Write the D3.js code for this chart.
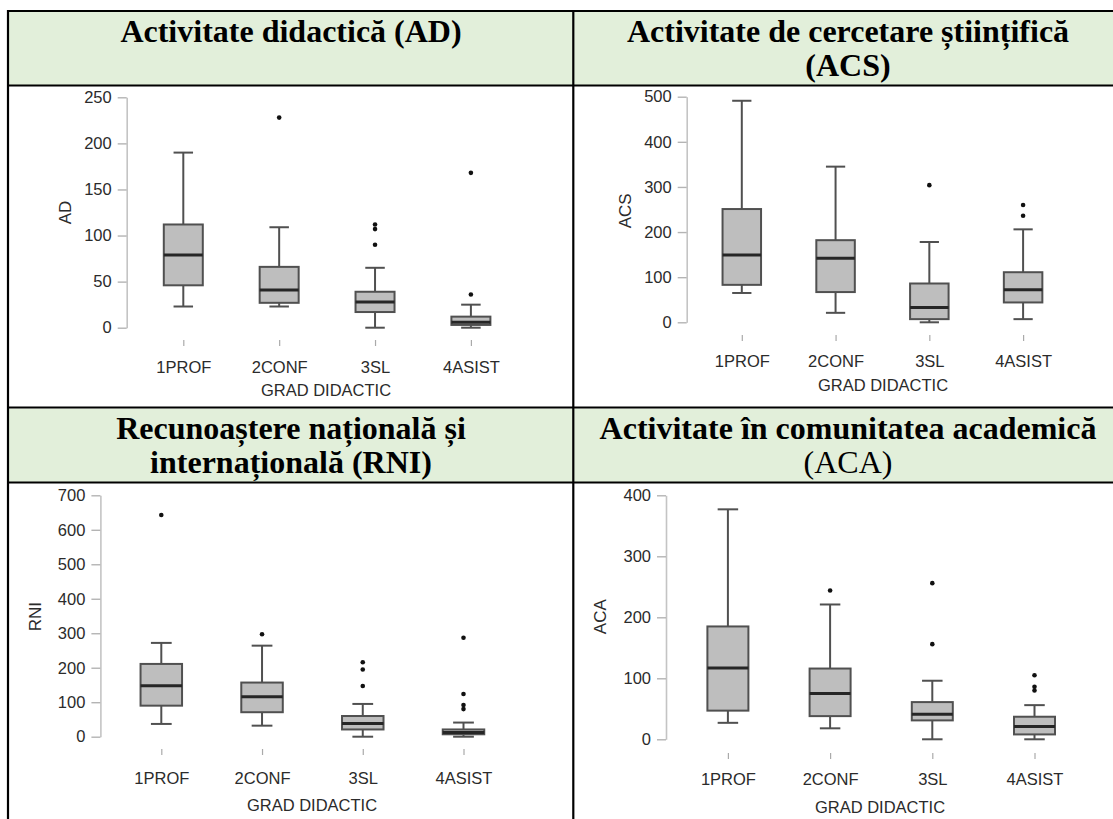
<!DOCTYPE html>
<html>
<head>
<meta charset="utf-8">
<script src="https://cdn.jsdelivr.net/npm/d3@7"></script>
<style>
  html, body { margin: 0; padding: 0; background: #fff; }
  svg { display: block; }
</style>
</head>
<body>
<svg id="chart" width="1113" height="819"></svg>
<script>
// ---------------- DATA ----------------
const categories = ["1PROF", "2CONF", "3SL", "4ASIST"];
const xAxisTitle = "GRAD DIDACTIC";

// [whisker low, Q1, median, Q3, whisker high] per category
const adStats  = [[23, 46, 79, 112, 190], [23, 27, 41, 66, 109], [0, 17, 28, 39, 65], [0, 3, 6, 12, 25]];
const adOutliers = [[], [228], [112, 107, 90], [168, 36]];
const adTicks = [0, 50, 100, 150, 200, 250];

const acsStats = [[65, 83, 149, 251, 491], [21, 67, 142, 182, 345], [0, 7, 33, 86, 178], [7, 44, 72, 111, 206]];
const acsOutliers = [[], [], [304], [260, 236]];
const acsTicks = [0, 100, 200, 300, 400, 500];

const rniStats = [[37, 90, 148, 211, 272], [32, 71, 116, 157, 264], [0, 21, 38, 60, 95], [0, 7, 12, 21, 41]];
const rniOutliers = [[643], [297], [216, 195, 147], [287, 124, 92, 80]];
const rniTicks = [0, 100, 200, 300, 400, 500, 600, 700];

const acaStats = [[27, 47, 117, 185, 377], [18, 38, 75, 116, 221], [0, 31, 41, 61, 96], [0, 8, 21, 37, 56]];
const acaOutliers = [[], [244], [256, 156], [105, 86, 80]];
const acaTicks = [0, 100, 200, 300, 400];

const headerTitles = [
  [{t: "Activitate didactică (AD)", b: true}],
  [{t: "Activitate de cercetare științifică", b: true}, {t: "(ACS)", b: true}],
  [{t: "Recunoaștere națională și", b: true}, {t: "internațională (RNI)", b: true}],
  [{t: "Activitate în comunitatea academică", b: true}, {t: "(ACA)", b: false}]
];

// ---------------- LAYOUT ----------------
const panels = [
  {label: "AD", stats: adStats, outliers: adOutliers, ticks: adTicks,
   axisX: 126.7, yR: [327.7, 97.3], xR: [183.3, 470.9], boxW: 39, tickY: 340, catBase: 367,
   xt: [326, 395.5], yt: [65, 212.5]},
  {label: "ACS", stats: acsStats, outliers: acsOutliers, ticks: acsTicks,
   axisX: 686.7, yR: [322.3, 96.7], xR: [741.8, 1023.1], boxW: 38.5, tickY: 335, catBase: 361,
   xt: [883, 390.5], yt: [625, 210.8]},
  {label: "RNI", stats: rniStats, outliers: rniOutliers, ticks: rniTicks,
   axisX: 100.4, yR: [736.7, 495.3], xR: [161.3, 463.5], boxW: 41.5, tickY: 749, catBase: 777.5,
   xt: [312, 810.5], yt: [35.5, 616.7]},
  {label: "ACA", stats: acaStats, outliers: acaOutliers, ticks: acaTicks,
   axisX: 666, yR: [739.3, 495.3], xR: [727.9, 1034.5], boxW: 41, tickY: 753, catBase: 779,
   xt: [880, 812.5], yt: [600.4, 616.7]}
];

const svg = d3.select("#chart");
const serif = "'Liberation Serif', 'Times New Roman', serif";
const sans = "'Liberation Sans', Arial, Helvetica, sans-serif";

// ---------------- TABLE (headers + borders) ----------------
const headerRows = [{y0: 12, y1: 85, base1: 42, base2: 76}, {y0: 408.5, y1: 482, base1: 439, base2: 473}];
const colCenters = [291, 848];
headerRows.forEach((r, ri) => {
  svg.append("rect").attr("x", 8).attr("y", r.y0).attr("width", 1105).attr("height", r.y1 - r.y0)
    .attr("fill", "#e2efda");
  [0, 1].forEach(ci => {
    const lines = headerTitles[ri * 2 + ci];
    lines.forEach((ln, li) => {
      svg.append("text")
        .attr("x", colCenters[ci])
        .attr("y", li === 0 ? r.base1 : r.base2)
        .attr("text-anchor", "middle")
        .style("font-family", serif)
        .style("font-size", "32px")
        .style("font-weight", ln.b ? "bold" : "normal")
        .attr("fill", "#000")
        .text(ln.t);
    });
  });
});
const borderLines = [
  [7, 11, 1113, 11], [7, 85.5, 1113, 85.5], [7, 407.5, 1113, 407.5], [7, 482.5, 1113, 482.5],
  [8, 10, 8, 819], [573.3, 10, 573.3, 819]
];
svg.selectAll("line.border").data(borderLines).enter().append("line")
  .attr("class", "border")
  .attr("x1", d => d[0]).attr("y1", d => d[1]).attr("x2", d => d[2]).attr("y2", d => d[3])
  .attr("stroke", "#000").attr("stroke-width", 2.2);

// ---------------- BOX PLOTS ----------------
const textCol = "#2b2b2b";
panels.forEach(p => {
  const y = d3.scaleLinear().domain([0, d3.max(p.ticks)]).range(p.yR);
  const x = d3.scalePoint().domain(categories).range(p.xR);
  const g = svg.append("g");

  // y axis
  const ya = g.append("g").attr("transform", `translate(${p.axisX},0)`)
    .call(d3.axisLeft(y).tickValues(p.ticks).tickSize(9).tickSizeOuter(0).tickPadding(6));
  ya.select(".domain").attr("stroke", "#c4c4c4").attr("stroke-width", 1.6);
  ya.selectAll(".tick line").attr("stroke", "#b4b4b4").attr("stroke-width", 1.4);
  ya.selectAll(".tick text").style("font-family", sans).style("font-size", "16.5px").attr("fill", textCol);

  // x axis (ticks + category labels, no domain line)
  const xa = g.append("g").attr("transform", `translate(0,${p.tickY})`)
    .call(d3.axisBottom(x).tickSize(6).tickPadding(p.catBase - p.tickY - 11.5));
  xa.select(".domain").remove();
  xa.selectAll(".tick line").attr("stroke", "#aaa").attr("stroke-width", 1.2);
  xa.selectAll(".tick text").style("font-family", sans).style("font-size", "16.5px").attr("fill", textCol);

  // axis titles
  g.append("text").attr("x", p.xt[0]).attr("y", p.xt[1]).attr("text-anchor", "middle")
    .style("font-family", sans).style("font-size", "16.5px").attr("fill", textCol).text(xAxisTitle);
  g.append("text").attr("transform", `translate(${p.yt[0]},${p.yt[1]}) rotate(-90)`)
    .attr("text-anchor", "middle").attr("dy", "0.35em")
    .style("font-family", sans).style("font-size", "17px").attr("fill", textCol).text(p.label);

  const boxes = g.selectAll("g.box").data(categories.map((c, i) => ({c, s: p.stats[i], o: p.outliers[i]})))
    .enter().append("g").attr("class", "box");

  // whiskers
  boxes.append("line").attr("x1", d => x(d.c)).attr("x2", d => x(d.c))
    .attr("y1", d => y(d.s[0])).attr("y2", d => y(d.s[1]))
    .attr("stroke", "#505050").attr("stroke-width", 2);
  boxes.append("line").attr("x1", d => x(d.c)).attr("x2", d => x(d.c))
    .attr("y1", d => y(d.s[3])).attr("y2", d => y(d.s[4]))
    .attr("stroke", "#505050").attr("stroke-width", 2);
  [0, 4].forEach(k => {
    boxes.append("line").attr("x1", d => x(d.c) - p.boxW / 4).attr("x2", d => x(d.c) + p.boxW / 4)
      .attr("y1", d => y(d.s[k])).attr("y2", d => y(d.s[k]))
      .attr("stroke", "#505050").attr("stroke-width", 2);
  });
  // box
  boxes.append("rect").attr("x", d => x(d.c) - p.boxW / 2).attr("width", p.boxW)
    .attr("y", d => y(d.s[3])).attr("height", d => y(d.s[1]) - y(d.s[3]))
    .attr("fill", "#bebebe").attr("stroke", "#505050").attr("stroke-width", 2);
  // median
  boxes.append("line").attr("x1", d => x(d.c) - p.boxW / 2).attr("x2", d => x(d.c) + p.boxW / 2)
    .attr("y1", d => y(d.s[2])).attr("y2", d => y(d.s[2]))
    .attr("stroke", "#262626").attr("stroke-width", 3);
  // outliers
  boxes.each(function(d) {
    d3.select(this).selectAll("circle").data(d.o).enter().append("circle")
      .attr("cx", x(d.c)).attr("cy", v => y(v)).attr("r", 2.3).attr("fill", "#111");
  });
});
</script>
</body>
</html>
